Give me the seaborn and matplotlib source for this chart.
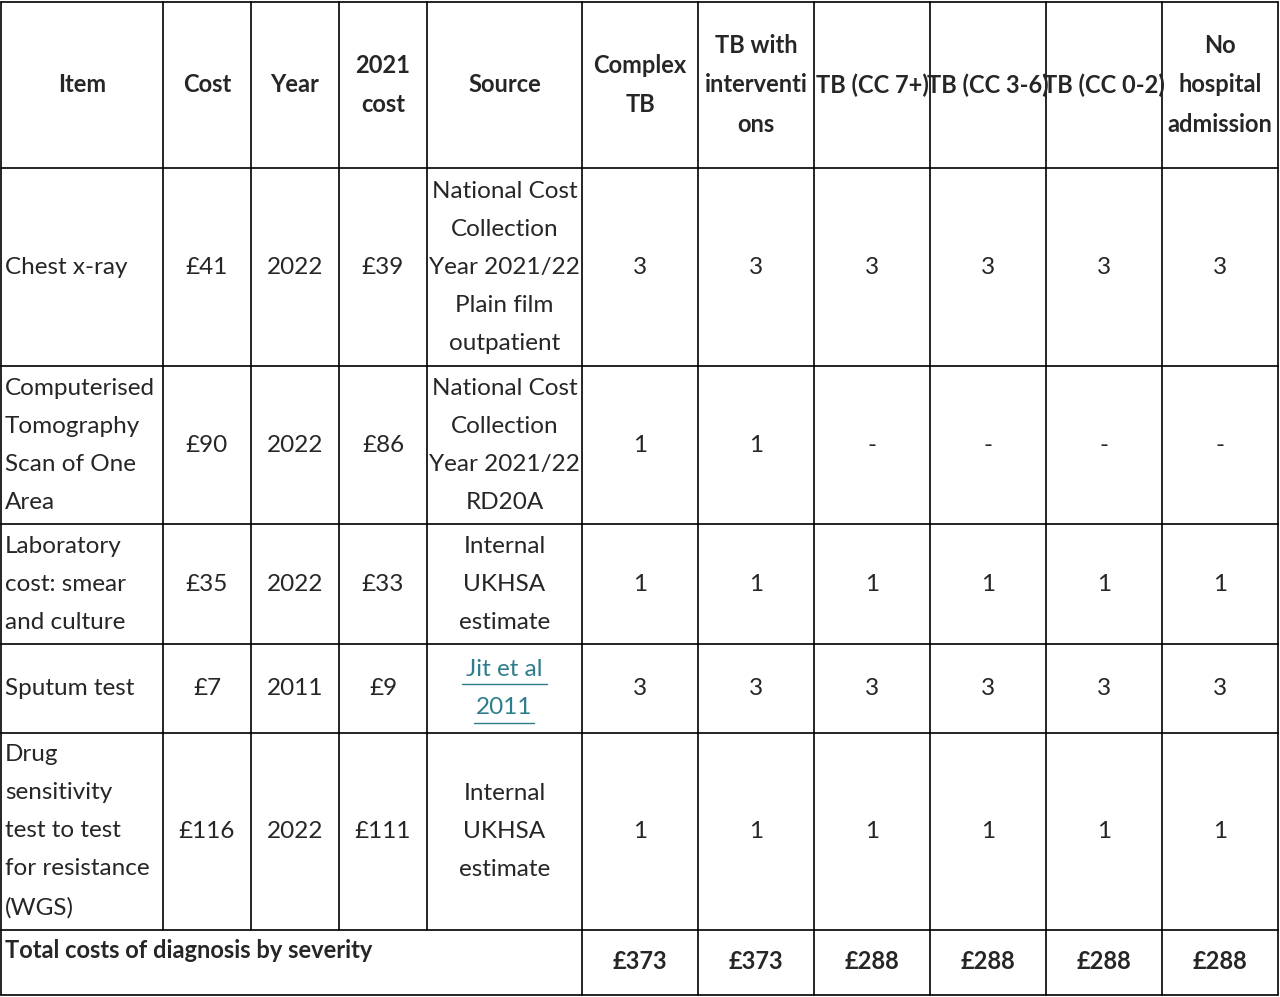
import matplotlib
matplotlib.use("Agg")
import matplotlib.pyplot as plt
import seaborn as sns

sns.set_theme(style="white")
plt.rcParams['font.family'] = ['Lato', 'DejaVu Sans']

headers = ["Item", "Cost", "Year", "2021\ncost", "Source", "Complex\nTB", "TB with\ninterventi\nons",
           "TB (CC 7+)", "TB (CC 3-6)", "TB (CC 0-2)", "No\nhospital\nadmission"]
items = ["Chest x-ray", "Computerised\nTomography\nScan of One\nArea", "Laboratory\ncost: smear\nand culture",
         "Sputum test", "Drug\nsensitivity\ntest to test\nfor resistance\n(WGS)"]
costs = ["£41", "£90", "£35", "£7", "£116"]
years = ["2022", "2022", "2022", "2011", "2022"]
costs2021 = ["£39", "£86", "£33", "£9", "£111"]
sources = ["National Cost\nCollection\nYear 2021/22\nPlain film\noutpatient",
           "National Cost\nCollection\nYear 2021/22\nRD20A",
           "Internal\nUKHSA\nestimate", "Jit et al\n2011", "Internal\nUKHSA\nestimate"]
counts = [["3"] * 6, ["1", "1", "-", "-", "-", "-"], ["1"] * 6, ["3"] * 6, ["1"] * 6]
total_label = "Total costs of diagnosis by severity"
totals = ["£373", "£373", "£288", "£288", "£288", "£288"]

xs = [1, 163, 251, 339, 427, 582, 698, 814, 930, 1046, 1162, 1278]
ys = [2, 168, 366, 524, 644, 733, 930, 995]

fig = plt.figure(figsize=(12.8, 9.97), dpi=100)
ax = fig.add_axes([0, 0, 1, 1])
ax.set_xlim(0, 1280)
ax.set_ylim(997, 0)
ax.axis("off")

lw = 1.2
for y in ys:
    ax.plot([xs[0], xs[-1]], [y, y], color="black", lw=lw)
for i, x in enumerate(xs):
    bot = ys[-1] if (i == 0 or i >= 5) else ys[-2]
    ax.plot([x, x], [ys[0], bot], color="black", lw=lw)

fs = 17.5
ls = 2.0
def cx(i):
    return (xs[i] + xs[i + 1]) / 2

for i, h in enumerate(headers):
    ax.text(cx(i), (ys[0] + ys[1]) / 2, h, ha="center", va="center", fontsize=fs - 0.5,
            fontweight="bold", linespacing=1.85)

for r in range(5):
    yc = (ys[r + 1] + ys[r + 2]) / 2
    ax.text(5, yc, items[r], ha="left", va="center", fontsize=fs, linespacing=ls)
    ax.text(cx(1), yc, costs[r], ha="center", va="center", fontsize=fs)
    ax.text(cx(2), yc, years[r], ha="center", va="center", fontsize=fs)
    ax.text(cx(3), yc, costs2021[r], ha="center", va="center", fontsize=fs)
    if r == 3:
        ax.text(cx(4), yc, sources[r], ha="center", va="center", fontsize=fs,
                linespacing=ls, color="#2E7D8C")
        ax.plot([462, 547], [684, 684], color="#2E7D8C", lw=1)
        ax.plot([474, 534], [723, 723], color="#2E7D8C", lw=1)
    else:
        ax.text(cx(4), yc, sources[r], ha="center", va="center", fontsize=fs, linespacing=ls)
    for c in range(6):
        ax.text(cx(5 + c), yc, counts[r][c], ha="center", va="center", fontsize=fs)

ax.text(5, 950, total_label, ha="left", va="center", fontsize=fs - 0.5, fontweight="bold")
for c in range(6):
    ax.text(cx(5 + c), 961, totals[c], ha="center", va="center", fontsize=fs - 0.5, fontweight="bold")

fig.savefig("out.png", dpi=100)
